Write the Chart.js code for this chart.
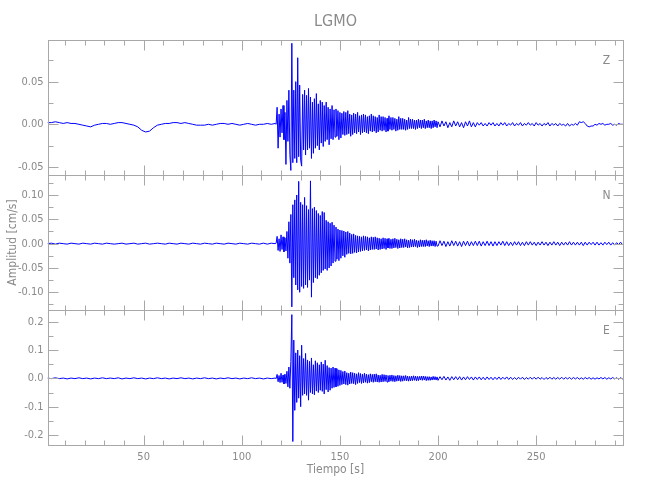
<!DOCTYPE html>
<html>
<head>
<meta charset="utf-8">
<script src="https://cdn.jsdelivr.net/npm/chart.js@4.4.1/dist/chart.umd.min.js"></script>
<style>
  body { margin: 0; background: #fff; }
  canvas { display: block; }
</style>
</head>
<body>
<canvas id="chart" width="650" height="500"></canvas>
<script>
// amplitudes en milesimas de cm/s
// tramo previo: t = 1, 3, 5 ... 115 (cada 2 s)
const zPre = [2,2,3,2,1,2,1,1,0,-1, -2,-3,-1,0,1,1,0,1,2,2, 1,0,-1,-3,-7,-9,-8,-4,-1,0,
  1,1,2,2,1,2,1,0,-1,-1, -1,0,-1,0,1,1,0,1,0,-1, 0,1,0,-1,0,0,1,0];
const nPre = [0,1,-1,1,0,-1,1,0,-1,1, 0,-1,1,0,-1,1,0,-1,0,1, -1,0,1,-1,0,1,-1,0,1,0,
  -1,1,0,-1,1,0,-1,1,0,-1, 1,0,-1,1,0,-1,1,0,-1,1, 0,-1,1,0,-1,1,-1,1];
const ePre = [1,-1,2,-1,1,-2,1,-1,2,-1, 1,-2,1,-1,2,-1,1,-1,2,-2, 1,-1,2,-1,1,-2,1,-1,2,-1,
  1,-2,1,-1,2,-1,1,-2,1,-1, 2,-1,1,-2,1,-1,2,-1,1,-2, 1,-1,2,-1,1,-2,1,-1];

// tramo principal: t = 117 ... 199.5 (cada 0.5 s)
const zMain = [
  1,0,20,-28,12,-15,18,-10,22,-18,
  14,-47,28,-20,40,-35,-54,95,-45,40,
  -40,50,-45,78,-38,46,-42,-49,35,-30,
  40,-36,34,-30,42,-28,32,-40,26,-34,
  30,-28,36,-25,24,-30,28,-22,26,-26,
  22,-20,26,-18,20,-24,18,-17,22,-18,
  17,-15,18,-14,16,-18,14,-16,13,-12,
  15,-13,14,-12,16,-11,12,-14,11,-12,
  13,-10,12,-11,14,-9,10,-12,11,-10,
  12,-9,11,-10,9,-11,10,-8,12,-9,
  10,-8,9,-10,8,-9,11,-7,9,-8,
  9,-7,8,-9,7,-8,10,-6,8,-7,
  8,-6,7,-8,6,-7,9,-6,7,-6,
  7,-6,6,-7,5,-6,8,-5,6,-5,
  6,-5,5,-6,5,-5,6,-4,5,-5,
  5,-4,6,-5,4,-4,5,-4,4,-5,
  4,-4,5,-3,4,-4];
const nMain = [
  0,1,15,-14,10,-16,18,-12,14,-17,
  12,-15,25,-30,45,-40,60,-130,80,-70,
  90,-85,100,-95,128,-100,85,-88,80,-92,
  95,-85,78,-90,70,-75,129,-110,72,-80,
  75,-70,68,-72,62,-65,58,-60,66,-55,
  64,-52,48,-55,45,-50,42,-46,44,-40,
  38,-36,34,-32,30,-35,28,-30,27,-25,
  26,-28,24,-22,25,-20,22,-21,19,-20,
  20,-18,17,-19,16,-17,15,-16,14,-15,
  16,-14,15,-13,14,-15,12,-13,14,-12,
  13,-12,14,-11,12,-13,11,-12,10,-11,
  12,-10,11,-12,10,-9,11,-10,9,-10,
  10,-9,11,-8,9,-10,8,-9,10,-8,
  9,-8,10,-7,8,-9,7,-8,9,-7,
  8,-7,9,-6,7,-8,6,-7,8,-6,
  7,-6,7,-6,8,-5,6,-6,7,-5,
  6,-5,6,-6,5,-5];
const eMain = [
  1,-1,14,-12,10,-15,18,-14,12,-20,
  15,-18,25,-30,40,-35,60,225,-223,135,
  -113,90,-85,100,-70,80,-100,117,-60,70,
  -55,88,-60,65,-77,60,-50,72,-55,48,
  -58,62,-45,55,-50,48,-42,58,-46,50,
  -55,64,-40,45,-48,38,-42,36,-35,40,
  -32,36,-30,34,-28,30,-25,28,-22,24,
  -20,26,-22,20,-24,18,-20,22,-18,20,
  -19,18,-22,16,-18,20,-15,17,-18,15,
  -16,18,-14,15,-17,13,-15,16,-12,14,
  -14,15,-12,16,-13,12,-14,11,-13,14,
  -12,13,-11,12,-13,10,-12,11,-10,12,
  -11,10,-12,9,-10,11,-9,10,-11,9,
  -10,9,-8,10,-9,8,-10,7,-9,8,
  -8,9,-7,8,-9,7,-8,7,-6,8,
  -7,8,-6,7,-8,6,-7,6,-7,5,
  -6,7,-5,6,-6,5];

// coda: t = 200 ... 295 (cada 1 s)
const zTail = [
  3,-3,4,-2,3,-4,2,-3,4,-2, 3,-3,2,-4,3,-2,4,-3,2,-3,
  2,-1,2,-2,1,-2,2,-1,2,-2, 1,-2,2,-1,2,-2,1,-1,2,-2,
  1,-1,2,-2,1,-1,2,-1,1,-2, 2,-1,1,-2,1,-1,2,-2,1,-1,
  1,-2,1,-1,0,-2,1,-2,0,-1, 1,-1,3,2,3,1,-2,-3,-2,-2,
  0,-1,1,0,1,-1,0,0,1,-1, 0,-1,1,0,0,0];
const nTail = [
  -5,6,-4,5,-6,4,-5,6,-4,5, -5,4,-6,5,-4,5,-5,4,-4,5,
  -4,5,-5,4,-4,5,-4,4,-5,4, -4,4,-3,5,-4,4,-4,3,-4,4,
  -3,4,-4,3,-4,4,-3,4,-3,3, -4,3,-3,4,-3,3,-4,3,-3,4,
  -3,3,-4,3,-3,3,-3,4,-3,3, -3,3,-3,3,-4,3,-3,3,-2,3,
  -3,3,-3,2,-3,3,-2,3,-3,2, -3,2,-2,3,-2,2];
const eTail = [
  -7,6,-5,7,-6,5,-7,6,-5,6, -5,6,-6,5,-5,6,-4,5,-6,5,
  -4,5,-5,4,-5,5,-4,4,-5,4, -4,5,-4,4,-3,5,-4,4,-4,3,
  -4,4,-3,4,-4,3,-3,4,-3,4, -3,4,-3,3,-4,3,-3,4,-3,3,
  -3,3,-3,4,-3,3,-2,3,-3,3, -2,3,-3,2,-3,3,-2,3,-3,2,
  -3,2,-2,3,-2,3,-3,2,-2,3, -2,2,-3,2,-2,2];

const xTicks = [50, 100, 150, 200, 250];
const zTicks = [-0.05, 0, 0.05];
const nTicks = [-0.10, -0.05, 0, 0.05, 0.10];
const eTicks = [-0.2, -0.1, 0, 0.1, 0.2];

const gris = '#8a8a8a';
const linea = '#a8a8a8';
const azul = '#0000ff';
Chart.defaults.font.family = "'Liberation Sans Narrow', 'DejaVu Sans Condensed', sans-serif";

function serie(pre, main, tail) {
  const pts = [];
  pre.forEach((v, i) => pts.push({x: 1 + 2 * i, y: v / 1000}));
  main.forEach((v, i) => pts.push({x: 117 + 0.5 * i, y: v / 1000}));
  tail.forEach((v, i) => pts.push({x: 200 + i, y: v / 1000}));
  return pts;
}

const paneles = [
  {id: 'yZ', letra: 'Z', min: -0.0594, max: 0.0988, ticks: zTicks, menor: 0.025, dec: 2},
  {id: 'yN', letra: 'N', min: -0.1364, max: 0.1411, ticks: nTicks, menor: 0.025, dec: 2},
  {id: 'yE', letra: 'E', min: -0.2353, max: 0.2413, ticks: eTicks, menor: 0.05, dec: 1},
];

function ejeY(p, peso, titulo) {
  return {
    type: 'linear', position: 'left', stack: 'comp', stackWeight: 1, weight: peso,
    min: p.min, max: p.max,
    afterBuildTicks: s => { s.ticks = p.ticks.map(v => ({value: v})); },
    afterFit: s => { s.width = 47.5; },
    ticks: {
      color: gris, font: {size: 11}, padding: 4,
      callback: v => v.toFixed(p.dec)
    },
    grid: {display: false, drawTicks: false},
    border: {display: false},
    title: titulo ? {display: true, text: titulo, color: gris, font: {size: 12}, padding: {top: 6}} : {display: false}
  };
}

const marcos = {
  id: 'marcos',
  afterDatasetsDraw(chart) {
    const {ctx, chartArea} = chart;
    const x = chart.scales.x;
    const L = Math.round(chartArea.left) + 0.5, R = Math.round(chartArea.right) - 0.5;
    ctx.save();
    ctx.strokeStyle = linea;
    ctx.lineWidth = 1;
    paneles.forEach(p => {
      const s = chart.scales[p.id];
      const T = Math.round(s.top) + 0.5, B = Math.round(s.bottom) + 0.5;
      ctx.strokeRect(L, T, R - L, B - T);
      ctx.beginPath();
      // marcas del eje y, hacia dentro
      for (let k = Math.ceil(p.min / p.menor); k * p.menor <= p.max; k++) {
        const v = k * p.menor;
        const mayor = p.ticks.some(t => Math.abs(t - v) < 1e-9);
        const len = mayor ? 10 : 5;
        const y = Math.round(s.getPixelForValue(v)) + 0.5;
        ctx.moveTo(L, y); ctx.lineTo(L + len, y);
        ctx.moveTo(R, y); ctx.lineTo(R - len, y);
      }
      // marcas del eje x arriba y abajo de cada panel
      for (let t = 10; t <= x.max; t += 10) {
        if (t < x.min) continue;
        const len = xTicks.includes(t) ? 10 : 5;
        const px = Math.round(x.getPixelForValue(t)) + 0.5;
        ctx.moveTo(px, T); ctx.lineTo(px, T + len);
        ctx.moveTo(px, B); ctx.lineTo(px, B - len);
      }
      ctx.stroke();
      ctx.fillStyle = gris;
      ctx.font = "12px 'Liberation Sans Narrow', 'DejaVu Sans Condensed', sans-serif";
      ctx.textAlign = 'center';
      ctx.textBaseline = 'middle';
      ctx.fillText(p.letra, R - 17, s.top + 21);
    });
    ctx.restore();
  }
};

const trazo = {borderColor: azul, backgroundColor: azul, borderWidth: 1, pointRadius: 0, tension: 0};

new Chart(document.getElementById('chart'), {
  type: 'line',
  data: {
    datasets: [
      {label: 'Z', yAxisID: 'yZ', data: serie(zPre, zMain, zTail), ...trazo},
      {label: 'N', yAxisID: 'yN', data: serie(nPre, nMain, nTail), ...trazo},
      {label: 'E', yAxisID: 'yE', data: serie(ePre, eMain, eTail), ...trazo},
    ]
  },
  options: {
    responsive: false,
    animation: false,
    events: [],
    layout: {padding: {left: 0, right: 26.5, top: 0, bottom: 0}},
    plugins: {
      legend: {display: false},
      tooltip: {enabled: false},
      title: {
        display: true, text: 'LGMO', fullSize: false, color: gris,
        font: {size: 16, weight: 'normal'}, padding: {top: 12, bottom: 8.8}
      }
    },
    scales: {
      x: {
        type: 'linear', position: 'bottom', min: 1, max: 294.5,
        afterBuildTicks: s => { s.ticks = xTicks.map(v => ({value: v})); },
        afterFit: s => { s.height = 55; },
        ticks: {color: gris, font: {size: 11}, padding: 6, maxRotation: 0},
        grid: {display: false, drawTicks: false},
        border: {display: false},
        title: {display: true, text: 'Tiempo [s]', color: gris, font: {size: 12}, padding: {bottom: 23}}
      },
      yE: ejeY(paneles[2], 1),
      yN: ejeY(paneles[1], 2, 'Amplitud [cm/s]'),
      yZ: ejeY(paneles[0], 3)
    }
  },
  plugins: [marcos]
});
</script>
</body>
</html>
